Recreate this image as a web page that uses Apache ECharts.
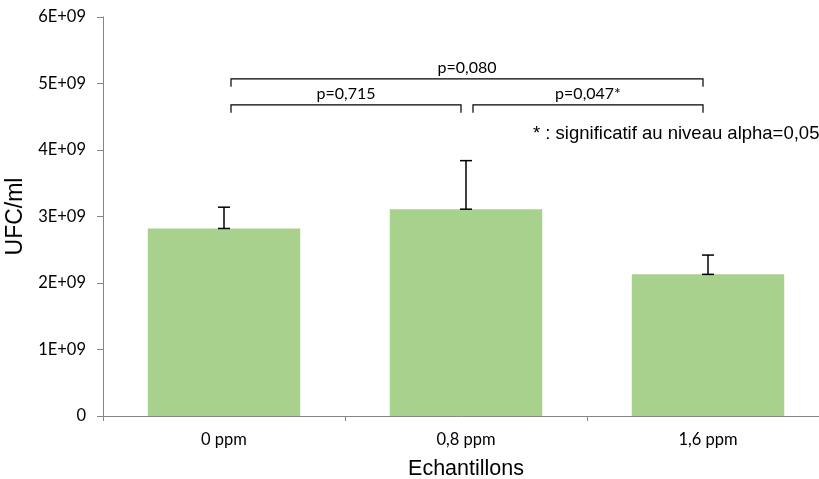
<!DOCTYPE html>
<html><head><meta charset="utf-8">
<script src="https://cdn.jsdelivr.net/npm/echarts@6/dist/echarts.min.js"></script>
<style>html,body{margin:0;padding:0;background:#fff}#c{width:819px;height:479px}</style>
</head><body><div id="c"></div>
<script>
const categories = ['0 ppm', '0,8 ppm', '1,6 ppm'];
const means = [2.82e9, 3.11e9, 2.13e9];
const errTop = [3.14e9, 3.84e9, 2.42e9];
const yTickValues = [0, 1e9, 2e9, 3e9, 4e9, 5e9, 6e9];
const yTickLabels = ['0', '1E+09', '2E+09', '3E+09', '4E+09', '5E+09', '6E+09'];
const bracketFrom = [0, 0, 1];
const bracketTo = [2, 1, 2];
const bracketLevel = [5.07e9, 4.68e9, 4.68e9];
const bracketLabels = ['p=0,080', 'p=0,715', 'p=0,047*'];
const noteText = '* : significatif au niveau alpha=0,05';

const tickFont = 'Lato, "Open Sans", sans-serif';
const chart = echarts.init(document.getElementById('c'));
chart.setOption({
  animation: false,
  grid: {left: 103, top: 17, bottom: 63, right: -10, containLabel: false, outerBoundsMode: 'none'},
  xAxis: {
    type: 'category', data: categories,
    name: 'Echantillons', nameLocation: 'middle', nameGap: 42,
    nameTextStyle: {fontFamily: 'Liberation Sans, Arial', fontSize: 21.5, color: '#000'},
    axisLine: {lineStyle: {color: '#868686', width: 1}},
    axisTick: {show: true, length: 5, lineStyle: {color: '#868686'}},
    axisLabel: {margin: 15, fontFamily: tickFont, fontSize: 16.5, color: '#000'}
  },
  yAxis: {
    type: 'value', min: 0, max: 6e9, interval: 1e9,
    name: 'UFC/ml', nameLocation: 'middle', nameGap: 73,
    nameTextStyle: {fontFamily: 'Liberation Sans, Arial', fontSize: 23, color: '#000'},
    axisLine: {show: true, lineStyle: {color: '#868686', width: 1}},
    axisTick: {show: true, length: 6, lineStyle: {color: '#868686'}},
    splitLine: {show: false},
    axisLabel: {margin: 17, fontFamily: tickFont, fontSize: 16.5, color: '#000',
      formatter: v => { const i = yTickValues.indexOf(v); return i >= 0 ? yTickLabels[i] : ''; }}
  },
  series: [
    {type: 'bar', data: means, barWidth: '63%', itemStyle: {color: '#A9D18E'}, z: 2},
    {type: 'custom', z: 5,
      data: means.map((m, i) => [i, m, errTop[i]]),
      renderItem: (params, api) => {
        const lo = api.coord([api.value(0), api.value(1)]);
        const hi = api.coord([api.value(0), api.value(2)]);
        const w = 6;
        const st = {stroke: '#000', lineWidth: 1.5};
        return {type: 'group', children: [
          {type: 'line', shape: {x1: lo[0], y1: lo[1], x2: hi[0], y2: hi[1]}, style: st},
          {type: 'line', shape: {x1: hi[0]-w, y1: hi[1], x2: hi[0]+w, y2: hi[1]}, style: st},
          {type: 'line', shape: {x1: lo[0]-w, y1: lo[1], x2: lo[0]+w, y2: lo[1]}, style: st}
        ]};
      }
    },
    {type: 'custom', z: 6,
      data: bracketFrom.map((f, i) => [f, bracketTo[i], bracketLevel[i], i]),
      renderItem: (params, api) => {
        const a = api.coord([api.value(0), api.value(2)]);
        const b = api.coord([api.value(1), api.value(2)]);
        const x1 = a[0] + 7, x2 = b[0] - 5, y = a[1], leg = 8;
        const label = bracketLabels[api.value(3)];
        return {type: 'group', children: [
          {type: 'polyline', shape: {points: [[x1, y + leg], [x1, y], [x2, y], [x2, y + leg]]},
            style: {stroke: '#000', lineWidth: 1.2, fill: null}},
          {type: 'text', x: (x1 + x2) / 2, y: y - 11,
            style: {text: label, fontFamily: tickFont, fontSize: 16, fill: '#000', align: 'center', verticalAlign: 'middle'}}
        ]};
      }
    }
  ],
  graphic: [
    {type: 'text', left: 533, top: 124, style: {text: noteText, fontFamily: 'Liberation Sans, Arial', fontSize: 18.5, fill: '#000'}}
  ]
});
</script></body></html>
